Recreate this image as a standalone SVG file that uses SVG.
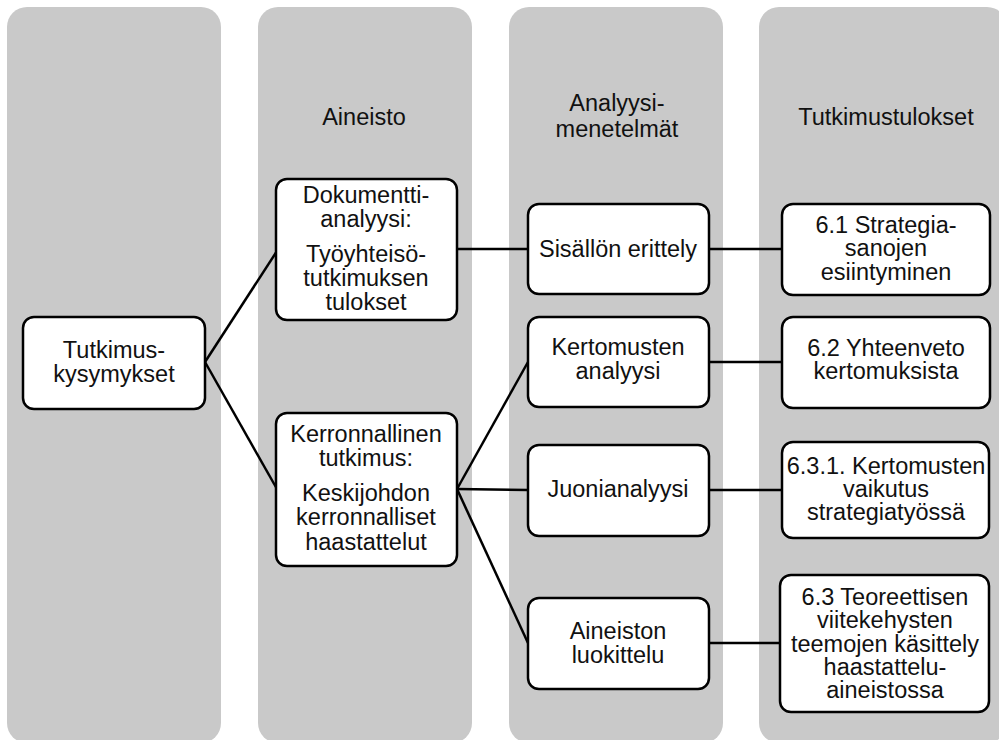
<svg xmlns="http://www.w3.org/2000/svg" width="999" height="740" viewBox="0 0 999 740">
<style>
.col{fill:#C9C9C9}
.box{fill:#fff;stroke:#000;stroke-width:2.5}
text{font-family:"Liberation Sans",Arial,sans-serif;font-size:23.5px;fill:#111;text-anchor:middle}
.conn line{stroke:#000;stroke-width:2.5}
</style>
<rect width="999" height="740" fill="#fff"/>
<g id="columns">
<rect class="col" x="7" y="7" width="214" height="736" rx="20"/>
<rect class="col" x="258" y="7" width="214" height="736" rx="20"/>
<rect class="col" x="509" y="7" width="214" height="736" rx="20"/>
<rect class="col" x="759" y="7" width="248" height="736" rx="20"/>
</g>
<g id="headers">
<text x="364" y="125">Aineisto</text>
<text x="617" y="111">Analyysi-</text>
<text x="617" y="137">menetelmät</text>
<text x="886" y="125">Tutkimustulokset</text>
</g>
<g class="conn" id="connectors">
<line x1="205" y1="362" x2="277" y2="251"/>
<line x1="205" y1="362" x2="277" y2="489"/>
<line x1="457" y1="249" x2="528" y2="249"/>
<line x1="709" y1="249" x2="782" y2="249"/>
<line x1="457" y1="489" x2="528" y2="362"/>
<line x1="457" y1="489" x2="528" y2="490"/>
<line x1="457" y1="489" x2="528" y2="643"/>
<line x1="709" y1="362" x2="782" y2="362"/>
<line x1="709" y1="490" x2="782" y2="490"/>
<line x1="709" y1="643" x2="780" y2="643"/>
</g>
<g id="tutkimuskysymykset">
<rect class="box" x="23" y="317" width="182" height="92" rx="11"/>
<text x="114" y="358">Tutkimus-</text>
<text x="114" y="382">kysymykset</text>
</g>
<g id="dokumenttianalyysi">
<rect class="box" x="276" y="179" width="181" height="141" rx="11"/>
<text x="366" y="203">Dokumentti-</text>
<text x="366" y="227">analyysi:</text>
<text x="366" y="262">Työyhteisö-</text>
<text x="366" y="286">tutkimuksen</text>
<text x="366" y="310">tulokset</text>
</g>
<g id="kerronnallinen">
<rect class="box" x="276" y="413" width="181" height="153" rx="11"/>
<text x="366" y="442">Kerronnallinen</text>
<text x="366" y="466">tutkimus:</text>
<text x="366" y="501">Keskijohdon</text>
<text x="366" y="525">kerronnalliset</text>
<text x="366" y="550">haastattelut</text>
</g>
<g id="sisallon">
<rect class="box" x="528" y="204" width="181" height="90" rx="11"/>
<text x="618" y="257">Sisällön erittely</text>
</g>
<g id="kertomusten">
<rect class="box" x="528" y="317" width="181" height="90" rx="11"/>
<text x="618" y="355">Kertomusten</text>
<text x="618" y="379">analyysi</text>
</g>
<g id="juonianalyysi">
<rect class="box" x="528" y="445" width="181" height="91" rx="11"/>
<text x="618" y="497">Juonianalyysi</text>
</g>
<g id="aineiston">
<rect class="box" x="528" y="598" width="181" height="91" rx="11"/>
<text x="618" y="639">Aineiston</text>
<text x="618" y="663">luokittelu</text>
</g>
<g id="r61">
<rect class="box" x="782" y="204" width="208" height="91" rx="11"/>
<text x="886" y="233">6.1 Strategia-</text>
<text x="886" y="256">sanojen</text>
<text x="886" y="280">esiintyminen</text>
</g>
<g id="r62">
<rect class="box" x="782" y="317" width="208" height="91" rx="11"/>
<text x="886" y="356">6.2 Yhteenveto</text>
<text x="886" y="379">kertomuksista</text>
</g>
<g id="r631">
<rect class="box" x="782" y="442" width="207" height="96" rx="11"/>
<text x="886" y="474">6.3.1. Kertomusten</text>
<text x="886" y="497">vaikutus</text>
<text x="886" y="520">strategiatyössä</text>
</g>
<g id="r63">
<rect class="box" x="780" y="575" width="209" height="137" rx="11"/>
<text x="885" y="605">6.3 Teoreettisen</text>
<text x="885" y="628">viitekehysten</text>
<text x="885" y="652">teemojen käsittely</text>
<text x="885" y="675">haastattelu-</text>
<text x="885" y="698">aineistossa</text>
</g>
</svg>
